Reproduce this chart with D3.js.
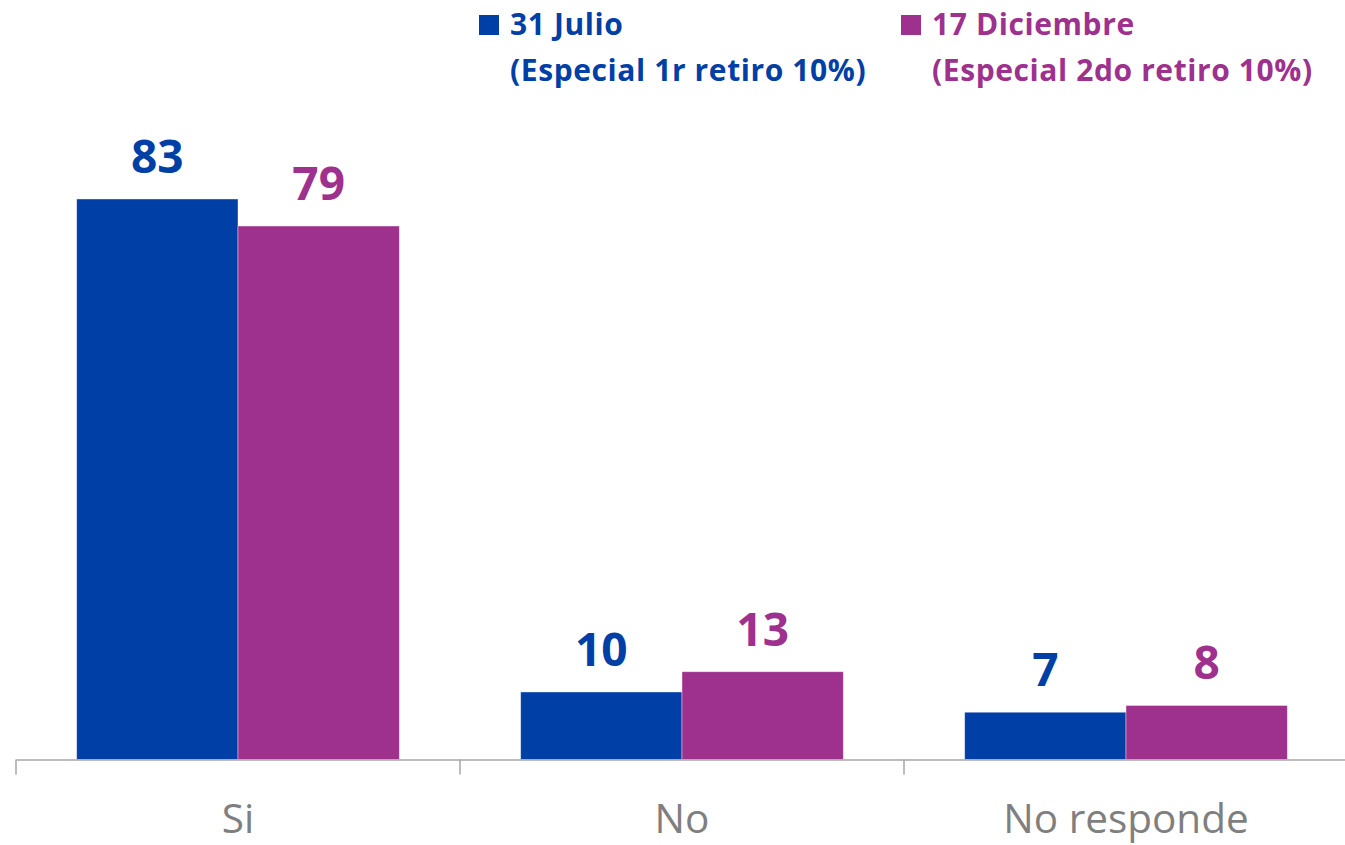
<!DOCTYPE html>
<html>
<head>
<meta charset="utf-8">
<script src="https://cdn.jsdelivr.net/npm/d3@7"></script>
<style>
  body { margin: 0; background: #fff; }
  text { font-family: "Open Sans", sans-serif; }
</style>
</head>
<body>
<svg id="chart"></svg>
<script>
// data
const categories = ['Si', 'No', 'No responde'];
const seriesNames = ['31 Julio', '17 Diciembre'];
const seriesSubtitles = ['(Especial 1r retiro 10%)', '(Especial 2do retiro 10%)'];
const julio = [83, 10, 7];
const diciembre = [79, 13, 8];
const colors = ['#003FA5', '#9E318E'];

const width = 1345;
const height = 845;
const baseline = 759.5;

const svg = d3.select('#chart')
  .attr('width', width)
  .attr('height', height);

// scales
const x0 = d3.scaleBand()
  .domain(categories)
  .range([16, 1348]);

const x1 = d3.scaleBand()
  .domain(seriesNames)
  .range([0, x0.bandwidth()])
  .paddingInner(0)
  .paddingOuter(0.376);

const y = d3.scaleLinear()
  .domain([0, 83])
  .range([baseline, 199]);

const rows = categories.map((c, i) => ({
  category: c,
  values: [julio[i], diciembre[i]]
}));

// bars
const groups = svg.selectAll('.group')
  .data(rows)
  .enter()
  .append('g')
  .attr('class', 'group')
  .attr('transform', d => `translate(${x0(d.category)},0)`);

groups.selectAll('rect')
  .data(d => d.values.map((v, j) => ({ name: seriesNames[j], value: v, j })))
  .enter()
  .append('rect')
  .attr('x', d => x1(d.name))
  .attr('width', x1.bandwidth())
  .attr('y', d => y(d.value))
  .attr('height', d => baseline - y(d.value))
  .attr('fill', d => colors[d.j])
  .attr('stroke', '#ffffff')
  .attr('stroke-opacity', 0.5)
  .attr('stroke-width', 0.8);

// value labels
groups.selectAll('.label')
  .data(d => d.values.map((v, j) => ({ name: seriesNames[j], value: v, j })))
  .enter()
  .append('text')
  .attr('class', 'label')
  .attr('x', d => x1(d.name) + x1.bandwidth() / 2)
  .attr('y', d => y(d.value) - 26)
  .attr('text-anchor', 'middle')
  .attr('font-size', 46)
  .attr('font-weight', 700)
  .attr('fill', d => colors[d.j])
  .text(d => d.value);

// x axis
const xAxis = d3.axisBottom(x0)
  .tickSize(0)
  .tickPadding(0)
  .tickFormat('');

const axisG = svg.append('g')
  .attr('transform', `translate(0, ${baseline})`)
  .call(xAxis);

axisG.select('.domain')
  .attr('stroke', '#A6A6A6')
  .attr('stroke-width', 1.5);

// category separators
const sepPositions = categories.map(c => x0(c)).concat([x0.range()[1]]);
svg.selectAll('.sep')
  .data(sepPositions)
  .enter()
  .append('line')
  .attr('class', 'sep')
  .attr('x1', d => d)
  .attr('x2', d => d)
  .attr('y1', baseline)
  .attr('y2', baseline + 15)
  .attr('stroke', '#A6A6A6')
  .attr('stroke-width', 1.5);

// category labels
svg.selectAll('.cat')
  .data(categories)
  .enter()
  .append('text')
  .attr('class', 'cat')
  .attr('x', d => x0(d) + x0.bandwidth() / 2)
  .attr('y', 833)
  .attr('text-anchor', 'middle')
  .attr('font-size', 40.5)
  .attr('fill', '#7F7F7F')
  .text(d => d);

// legend
const legendX = [479, 901];
const legend = svg.selectAll('.legend')
  .data(seriesNames)
  .enter()
  .append('g')
  .attr('class', 'legend')
  .attr('transform', (d, i) => `translate(${legendX[i]}, 0)`);

legend.append('rect')
  .attr('x', 0)
  .attr('y', 15)
  .attr('width', 20)
  .attr('height', 20)
  .attr('fill', (d, i) => colors[i]);

legend.append('text')
  .attr('x', 31)
  .attr('y', 35)
  .attr('font-size', 30)
  .attr('font-weight', 700)
  .attr('letter-spacing', 0.6)
  .attr('fill', (d, i) => colors[i])
  .text(d => d);

legend.append('text')
  .attr('x', 31)
  .attr('y', 81)
  .attr('font-size', 30)
  .attr('font-weight', 700)
  .attr('letter-spacing', 0.6)
  .attr('fill', (d, i) => colors[i])
  .text((d, i) => seriesSubtitles[i]);
</script>
</body>
</html>
